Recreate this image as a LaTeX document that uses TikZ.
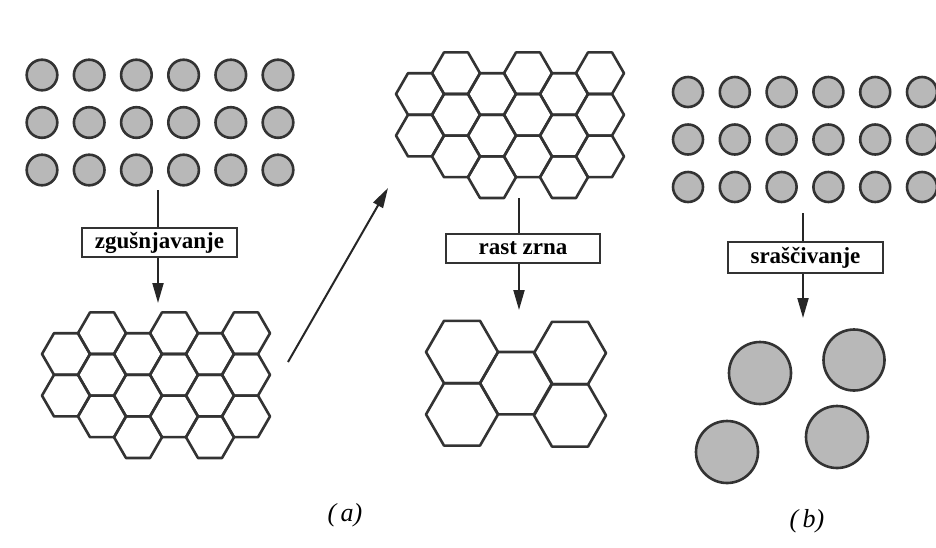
\documentclass[tikz,border=0pt]{standalone}
\usepackage{fontspec}
\setmainfont{Liberation Serif}
\usetikzlibrary{arrows.meta}
\def\hexcell[#1](#2:#3:#4){\draw[#1] ({#2},{#3}) ++(0:#4) -- ++(120:#4) -- ++(180:#4) -- ++(240:#4) -- ++(300:#4) -- ++(0:#4) -- cycle;}
\def\hexgrid(#1:#2){\foreach \c/\n in {0/1,1/2,2/2,3/2,4/2,5/2} {\foreach \r in {0,...,\n} {\hexcell[wall](#1+36*\c:#2+41.6*\r-20.8*mod(\c,2):24)}}}
\tikzset{
	grain/.style={draw=black!80, line width=2.6pt, fill=black!28},
	wall/.style={draw=black!80, line width=2.6pt, line join=round},
	stagebox/.style={draw=black!80, line width=1.6pt, inner sep=1pt, minimum height=29pt, font=\fontsize{23}{23}\selectfont\bfseries},
	flow/.style={draw=black!85, line width=2pt},
	flowtip/.style={flow, -{Triangle[length=20pt,width=11pt]}},
	caption/.style={font=\fontsize{26}{26}\selectfont\itshape}
}

\begin{document}
\begin{tikzpicture}[x=1pt, y=-1pt]
			%%%%% START %%%%%
			
			\fill[white] (0, 0) rectangle (936, 547);
			\useasboundingbox (0, 0) rectangle (936, 547);
			
			% powder before pressing
			\foreach \i in {0,...,5} {\foreach \j in {0,1,2} {\draw[grain] (42+47.2*\i, 75+47.5*\j) circle (15.3);}}
			
			\node[stagebox, minimum width=155pt] (press) at (159.5, 242.5) {zgušnjavanje};
			\coordinate (pressS) at (158, 190);
			\coordinate (pressE) at (158, 303);
			\draw[flow] (pressS) -- (pressS |- press.north);
			\draw[flowtip] (press.south -| pressE) -- (pressE);
			
			% dense compact
			\hexgrid(66:354)
			
			\coordinate (jumpS) at (288, 362);
			\coordinate (jumpE) at (388, 188);
			\draw[flowtip] (jumpS) -- (jumpE);
			
			\hexgrid(420:94)
			
			\node[stagebox, minimum width=154pt] (growth) at (523, 248.5) {rast zrna};
			\coordinate (growthS) at (519, 198);
			\coordinate (growthE) at (519, 310);
			\draw[flow] (growthS) -- (growthS |- growth.north);
			\draw[flowtip] (growth.south -| growthE) -- (growthE);
			
			% coarse grains
			\hexcell[wall](462:352:36)
			\hexcell[wall](462:414.4:36)
			\hexcell[wall](516:383.2:36)
			\hexcell[wall](570:353:36)
			\hexcell[wall](570:415.4:36)
			
			\node[caption] (capa) at (345, 515) {(\,a)};
			
			% second route
			\foreach \i in {0,...,5} {\foreach \j in {0,1,2} {\draw[grain] (688+46.8*\i, 92+47.5*\j) circle (15);}}
			
			\node[stagebox, minimum width=155pt, minimum height=31pt] (merge) at (805.5, 257.5) {sraščivanje};
			\coordinate (mergeS) at (803, 213);
			\coordinate (mergeE) at (803, 318);
			\draw[flow] (mergeS) -- (mergeS |- merge.north);
			\draw[flowtip] (merge.south -| mergeE) -- (mergeE);
			
			\draw[grain] (760, 373) circle (31);
			\draw[grain] (854, 360) circle (30.5);
			\draw[grain] (727, 452) circle (31);
			\draw[grain] (837, 437) circle (31);
			
			\node[caption] (capb) at (807, 521) {(\,b)};
			
			%%%%% END %%%%%
\end{tikzpicture}
\end{document}
